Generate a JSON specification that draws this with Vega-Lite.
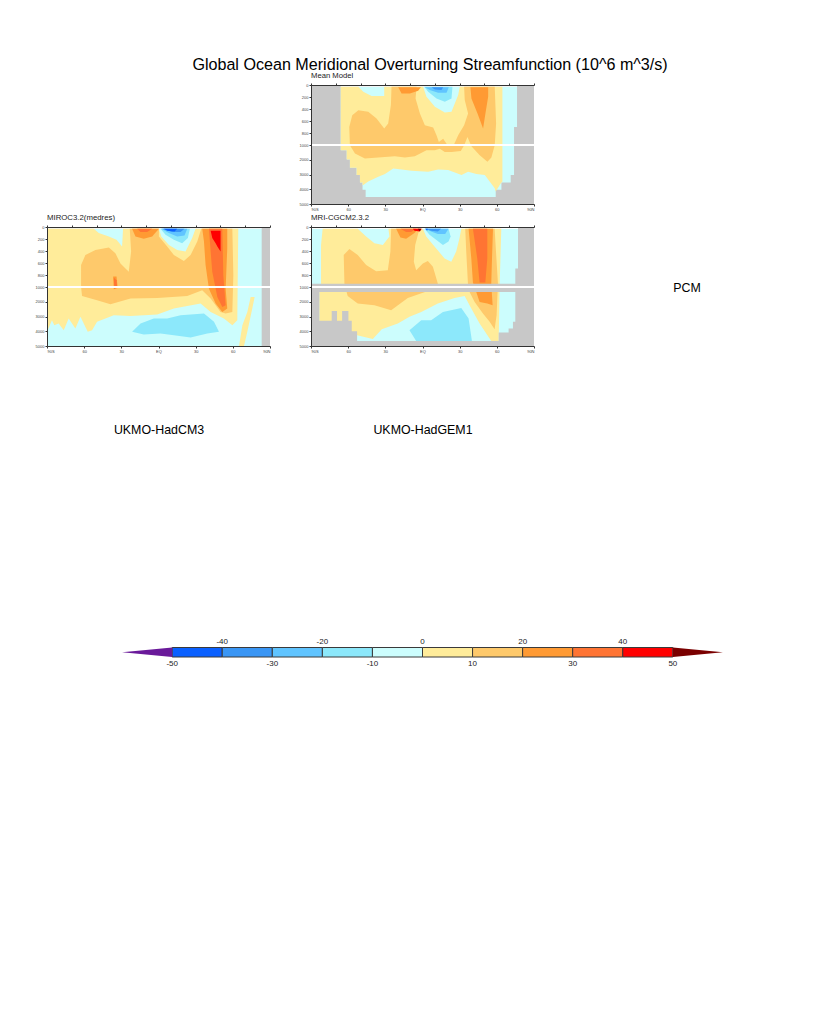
{"$schema":"https://vega.github.io/schema/vega-lite/v6.json","background":"white","padding":{"left":35,"top":57,"right":0,"bottom":0},
"config":{"font":"Liberation Sans","view":{"stroke":null}},
"title":{"text":"Global Ocean Meridional Overturning Streamfunction (10^6 m^3/s)","fontSize":16.12,"fontWeight":"normal","color":"#000","anchor":"middle","dx":13.5,"offset":-1.5},
"columns":3,"spacing":{"row":23,"column":41},"bounds":"flush",
"data":{"values":[
{"p":"M","k":1,"v":99,"lat":-90,"z":0},{"p":"M","k":1,"v":99,"lat":90,"z":0},{"p":"M","k":1,"v":99,"lat":90,"z":5000},{"p":"M","k":1,"v":99,"lat":-90,"z":5000},
{"p":"M","k":2,"v":-10,"lat":-66,"z":28},{"p":"M","k":2,"v":-10,"lat":76.3,"z":28},{"p":"M","k":2,"v":-10,"lat":76.3,"z":698},{"p":"M","k":2,"v":-10,"lat":73.9,"z":698},{"p":"M","k":2,"v":-10,"lat":73.9,"z":3034},{"p":"M","k":2,"v":-10,"lat":71.2,"z":3034},{"p":"M","k":2,"v":-10,"lat":71.2,"z":3548},{"p":"M","k":2,"v":-10,"lat":63.7,"z":3548},{"p":"M","k":2,"v":-10,"lat":63.7,"z":4040},{"p":"M","k":2,"v":-10,"lat":59.1,"z":4040},{"p":"M","k":2,"v":-10,"lat":59.1,"z":4532},{"p":"M","k":2,"v":-10,"lat":-45.9,"z":4532},{"p":"M","k":2,"v":-10,"lat":-45.9,"z":4040},{"p":"M","k":2,"v":-10,"lat":-48.4,"z":4040},{"p":"M","k":2,"v":-10,"lat":-48.4,"z":3548},{"p":"M","k":2,"v":-10,"lat":-50.5,"z":3548},{"p":"M","k":2,"v":-10,"lat":-50.5,"z":3034},{"p":"M","k":2,"v":-10,"lat":-53.2,"z":3034},{"p":"M","k":2,"v":-10,"lat":-53.2,"z":2542},{"p":"M","k":2,"v":-10,"lat":-58.6,"z":2542},{"p":"M","k":2,"v":-10,"lat":-58.6,"z":1983},{"p":"M","k":2,"v":-10,"lat":-61.2,"z":1983},{"p":"M","k":2,"v":-10,"lat":-61.2,"z":1358},{"p":"M","k":2,"v":-10,"lat":-66,"z":1358},
{"p":"M","k":3,"v":98,"lat":-66,"z":0},{"p":"M","k":3,"v":98,"lat":76.3,"z":0},{"p":"M","k":3,"v":98,"lat":76.3,"z":28},{"p":"M","k":3,"v":98,"lat":-66,"z":28},
{"p":"M","k":4,"v":0,"lat":-66,"z":28},{"p":"M","k":4,"v":0,"lat":-51.8,"z":28},{"p":"M","k":4,"v":0,"lat":-47.8,"z":112},{"p":"M","k":4,"v":0,"lat":-41.1,"z":184},{"p":"M","k":4,"v":0,"lat":-30.9,"z":184},{"p":"M","k":4,"v":0,"lat":-30.9,"z":28},{"p":"M","k":4,"v":0,"lat":0.5,"z":28},{"p":"M","k":4,"v":0,"lat":3.2,"z":196},{"p":"M","k":4,"v":0,"lat":10,"z":363},{"p":"M","k":4,"v":0,"lat":18,"z":458},{"p":"M","k":4,"v":0,"lat":23.4,"z":447},{"p":"M","k":4,"v":0,"lat":28.8,"z":168},{"p":"M","k":4,"v":0,"lat":30.1,"z":28},{"p":"M","k":4,"v":0,"lat":64.5,"z":28},{"p":"M","k":4,"v":0,"lat":64.5,"z":3481},{"p":"M","k":4,"v":0,"lat":63.2,"z":3593},{"p":"M","k":4,"v":0,"lat":59.1,"z":4151},{"p":"M","k":4,"v":0,"lat":58.3,"z":3928},{"p":"M","k":4,"v":0,"lat":50.3,"z":3034},{"p":"M","k":4,"v":0,"lat":43.5,"z":2967},{"p":"M","k":4,"v":0,"lat":36.8,"z":2810},{"p":"M","k":4,"v":0,"lat":31.5,"z":3034},{"p":"M","k":4,"v":0,"lat":20.7,"z":2699},{"p":"M","k":4,"v":0,"lat":12.6,"z":2654},{"p":"M","k":4,"v":0,"lat":4.6,"z":2810},{"p":"M","k":4,"v":0,"lat":-8.9,"z":2743},{"p":"M","k":4,"v":0,"lat":-16.9,"z":2654},{"p":"M","k":4,"v":0,"lat":-23.6,"z":2587},{"p":"M","k":4,"v":0,"lat":-30.3,"z":2967},{"p":"M","k":4,"v":0,"lat":-35.7,"z":3146},{"p":"M","k":4,"v":0,"lat":-43.8,"z":3481},{"p":"M","k":4,"v":0,"lat":-47.8,"z":3704},{"p":"M","k":4,"v":0,"lat":-48.4,"z":3704},{"p":"M","k":4,"v":0,"lat":-48.4,"z":3548},{"p":"M","k":4,"v":0,"lat":-50.5,"z":3548},{"p":"M","k":4,"v":0,"lat":-50.5,"z":3034},{"p":"M","k":4,"v":0,"lat":-53.2,"z":3034},{"p":"M","k":4,"v":0,"lat":-53.2,"z":2542},{"p":"M","k":4,"v":0,"lat":-58.6,"z":2542},{"p":"M","k":4,"v":0,"lat":-58.6,"z":1983},{"p":"M","k":4,"v":0,"lat":-61.2,"z":1983},{"p":"M","k":4,"v":0,"lat":-61.2,"z":1358},{"p":"M","k":4,"v":0,"lat":-66,"z":1358},
{"p":"M","k":5,"v":10,"lat":-25,"z":28},{"p":"M","k":5,"v":10,"lat":-4.8,"z":28},{"p":"M","k":5,"v":10,"lat":-5.6,"z":223},{"p":"M","k":5,"v":10,"lat":-2.1,"z":475},{"p":"M","k":5,"v":10,"lat":1.9,"z":670},{"p":"M","k":5,"v":10,"lat":8.6,"z":710},{"p":"M","k":5,"v":10,"lat":11.3,"z":838},{"p":"M","k":5,"v":10,"lat":13.2,"z":950},{"p":"M","k":5,"v":10,"lat":16.7,"z":894},{"p":"M","k":5,"v":10,"lat":20.2,"z":1022},{"p":"M","k":5,"v":10,"lat":25.5,"z":989},{"p":"M","k":5,"v":10,"lat":28.8,"z":838},{"p":"M","k":5,"v":10,"lat":33.6,"z":670},{"p":"M","k":5,"v":10,"lat":36.8,"z":475},{"p":"M","k":5,"v":10,"lat":34.1,"z":251},{"p":"M","k":5,"v":10,"lat":33.6,"z":28},{"p":"M","k":5,"v":10,"lat":58.3,"z":28},{"p":"M","k":5,"v":10,"lat":59.4,"z":642},{"p":"M","k":5,"v":10,"lat":58.3,"z":1022},{"p":"M","k":5,"v":10,"lat":55.6,"z":1849},{"p":"M","k":5,"v":10,"lat":52.4,"z":2140},{"p":"M","k":5,"v":10,"lat":46.2,"z":1693},{"p":"M","k":5,"v":10,"lat":39.5,"z":1089},{"p":"M","k":5,"v":10,"lat":36.3,"z":866},{"p":"M","k":5,"v":10,"lat":33.6,"z":1022},{"p":"M","k":5,"v":10,"lat":30.9,"z":1402},{"p":"M","k":5,"v":10,"lat":23.4,"z":1469},{"p":"M","k":5,"v":10,"lat":18,"z":1469},{"p":"M","k":5,"v":10,"lat":14,"z":1246},{"p":"M","k":5,"v":10,"lat":10,"z":1358},{"p":"M","k":5,"v":10,"lat":3.2,"z":1358},{"p":"M","k":5,"v":10,"lat":-6.2,"z":1760},{"p":"M","k":5,"v":10,"lat":-14.2,"z":1849},{"p":"M","k":5,"v":10,"lat":-22.3,"z":1760},{"p":"M","k":5,"v":10,"lat":-35.7,"z":1849},{"p":"M","k":5,"v":10,"lat":-46.5,"z":1916},{"p":"M","k":5,"v":10,"lat":-54.5,"z":1581},{"p":"M","k":5,"v":10,"lat":-58.6,"z":1022},{"p":"M","k":5,"v":10,"lat":-59.1,"z":698},{"p":"M","k":5,"v":10,"lat":-56.7,"z":503},{"p":"M","k":5,"v":10,"lat":-51.8,"z":419},{"p":"M","k":5,"v":10,"lat":-43.8,"z":447},{"p":"M","k":5,"v":10,"lat":-37.1,"z":559},{"p":"M","k":5,"v":10,"lat":-30.9,"z":726},{"p":"M","k":5,"v":10,"lat":-27.7,"z":642},{"p":"M","k":5,"v":10,"lat":-25.5,"z":335},
{"p":"M","k":6,"v":20,"lat":-19.6,"z":39},{"p":"M","k":6,"v":20,"lat":-1.3,"z":39},{"p":"M","k":6,"v":20,"lat":-3.5,"z":95},{"p":"M","k":6,"v":20,"lat":-10.2,"z":140},{"p":"M","k":6,"v":20,"lat":-16.9,"z":140},
{"p":"M","k":7,"v":20,"lat":38.7,"z":39},{"p":"M","k":7,"v":20,"lat":53,"z":39},{"p":"M","k":7,"v":20,"lat":53,"z":196},{"p":"M","k":7,"v":20,"lat":50.8,"z":475},{"p":"M","k":7,"v":20,"lat":48.9,"z":726},{"p":"M","k":7,"v":20,"lat":44.4,"z":475},{"p":"M","k":7,"v":20,"lat":39.5,"z":223},
{"p":"M","k":8,"v":-20,"lat":1.4,"z":28},{"p":"M","k":8,"v":-20,"lat":24.2,"z":28},{"p":"M","k":8,"v":-20,"lat":23.4,"z":223},{"p":"M","k":8,"v":-20,"lat":18,"z":279},{"p":"M","k":8,"v":-20,"lat":11.3,"z":223},{"p":"M","k":8,"v":-20,"lat":4.6,"z":112},
{"p":"M","k":9,"v":-30,"lat":1.9,"z":39},{"p":"M","k":9,"v":-30,"lat":21.2,"z":39},{"p":"M","k":9,"v":-30,"lat":19.4,"z":128},{"p":"M","k":9,"v":-30,"lat":12.6,"z":128},{"p":"M","k":9,"v":-30,"lat":5.9,"z":84},
{"p":"M","k":10,"v":-40,"lat":7.3,"z":39},{"p":"M","k":10,"v":-40,"lat":16.7,"z":39},{"p":"M","k":10,"v":-40,"lat":15.3,"z":84},{"p":"M","k":10,"v":-40,"lat":10,"z":73},

{"p":"A","k":11,"v":99,"lat":-90,"z":0},{"p":"A","k":11,"v":99,"lat":90,"z":0},{"p":"A","k":11,"v":99,"lat":90,"z":5000},{"p":"A","k":11,"v":99,"lat":-90,"z":5000},
{"p":"A","k":12,"v":-10,"lat":-90,"z":28},{"p":"A","k":12,"v":-10,"lat":83.3,"z":28},{"p":"A","k":12,"v":-10,"lat":83.3,"z":5000},{"p":"A","k":12,"v":-10,"lat":-90,"z":5000},
{"p":"A","k":13,"v":98,"lat":-90,"z":0},{"p":"A","k":13,"v":98,"lat":83.3,"z":0},{"p":"A","k":13,"v":98,"lat":83.3,"z":28},{"p":"A","k":13,"v":98,"lat":-90,"z":28},
{"p":"A","k":14,"v":0,"lat":-90,"z":28},{"p":"A","k":14,"v":0,"lat":-52.3,"z":28},{"p":"A","k":14,"v":0,"lat":-48.2,"z":101},{"p":"A","k":14,"v":0,"lat":-40.1,"z":157},{"p":"A","k":14,"v":0,"lat":-33.9,"z":214},{"p":"A","k":14,"v":0,"lat":-29.4,"z":326},{"p":"A","k":14,"v":0,"lat":-28.6,"z":28},{"p":"A","k":14,"v":0,"lat":0.3,"z":28},{"p":"A","k":14,"v":0,"lat":2.2,"z":157},{"p":"A","k":14,"v":0,"lat":8.4,"z":298},{"p":"A","k":14,"v":0,"lat":15.1,"z":382},{"p":"A","k":14,"v":0,"lat":21.8,"z":410},{"p":"A","k":14,"v":0,"lat":27.2,"z":185},{"p":"A","k":14,"v":0,"lat":29.9,"z":28},{"p":"A","k":14,"v":0,"lat":64.4,"z":28},{"p":"A","k":14,"v":0,"lat":63.6,"z":3250},{"p":"A","k":14,"v":0,"lat":59.6,"z":3588},{"p":"A","k":14,"v":0,"lat":52.8,"z":3138},{"p":"A","k":14,"v":0,"lat":42.1,"z":2688},{"p":"A","k":14,"v":0,"lat":34,"z":2125},{"p":"A","k":14,"v":0,"lat":12.4,"z":2463},{"p":"A","k":14,"v":0,"lat":-1,"z":2868},{"p":"A","k":14,"v":0,"lat":-22.6,"z":2958},{"p":"A","k":14,"v":0,"lat":-36.1,"z":2913},{"p":"A","k":14,"v":0,"lat":-49.6,"z":3363},{"p":"A","k":14,"v":0,"lat":-53.6,"z":3925},{"p":"A","k":14,"v":0,"lat":-57.1,"z":4038},{"p":"A","k":14,"v":0,"lat":-63,"z":3025},{"p":"A","k":14,"v":0,"lat":-67.1,"z":3813},{"p":"A","k":14,"v":0,"lat":-72.5,"z":3138},{"p":"A","k":14,"v":0,"lat":-76.5,"z":3925},{"p":"A","k":14,"v":0,"lat":-80.6,"z":3475},{"p":"A","k":14,"v":0,"lat":-84.1,"z":3588},{"p":"A","k":14,"v":0,"lat":-86,"z":3250},{"p":"A","k":14,"v":0,"lat":-90,"z":4038},
{"p":"A","k":15,"v":0,"lat":74.4,"z":1675},{"p":"A","k":15,"v":0,"lat":77.6,"z":1675},{"p":"A","k":15,"v":0,"lat":75.7,"z":2463},{"p":"A","k":15,"v":0,"lat":71.7,"z":4038},{"p":"A","k":15,"v":0,"lat":69,"z":5000},{"p":"A","k":15,"v":0,"lat":65,"z":5000},{"p":"A","k":15,"v":0,"lat":67.7,"z":3588},{"p":"A","k":15,"v":0,"lat":71.7,"z":2688},
{"p":"A","k":16,"v":10,"lat":-23.2,"z":28},{"p":"A","k":16,"v":10,"lat":0.3,"z":28},{"p":"A","k":16,"v":10,"lat":0.3,"z":157},{"p":"A","k":16,"v":10,"lat":7,"z":326},{"p":"A","k":16,"v":10,"lat":12.4,"z":466},{"p":"A","k":16,"v":10,"lat":20.5,"z":568},{"p":"A","k":16,"v":10,"lat":25.9,"z":466},{"p":"A","k":16,"v":10,"lat":31.3,"z":242},{"p":"A","k":16,"v":10,"lat":34.5,"z":28},{"p":"A","k":16,"v":10,"lat":59.6,"z":28},{"p":"A","k":16,"v":10,"lat":60.4,"z":803},{"p":"A","k":16,"v":10,"lat":59.6,"z":2688},{"p":"A","k":16,"v":10,"lat":54.2,"z":2800},{"p":"A","k":16,"v":10,"lat":50.1,"z":2688},{"p":"A","k":16,"v":10,"lat":42.1,"z":1788},{"p":"A","k":16,"v":10,"lat":35.3,"z":1225},{"p":"A","k":16,"v":10,"lat":23.2,"z":1608},{"p":"A","k":16,"v":10,"lat":-1,"z":1743},{"p":"A","k":16,"v":10,"lat":-22.6,"z":1788},{"p":"A","k":16,"v":10,"lat":-38.8,"z":2170},{"p":"A","k":16,"v":10,"lat":-49.6,"z":1900},{"p":"A","k":16,"v":10,"lat":-61.7,"z":1608},{"p":"A","k":16,"v":10,"lat":-62.5,"z":1000},{"p":"A","k":16,"v":10,"lat":-62.5,"z":635},{"p":"A","k":16,"v":10,"lat":-59,"z":466},{"p":"A","k":16,"v":10,"lat":-50.9,"z":382},{"p":"A","k":16,"v":10,"lat":-40.1,"z":343},{"p":"A","k":16,"v":10,"lat":-34.8,"z":438},{"p":"A","k":16,"v":10,"lat":-30.7,"z":607},{"p":"A","k":16,"v":10,"lat":-24,"z":747},{"p":"A","k":16,"v":10,"lat":-22.1,"z":410},
{"p":"A","k":17,"v":20,"lat":-21.3,"z":28},{"p":"A","k":17,"v":20,"lat":0.3,"z":28},{"p":"A","k":17,"v":20,"lat":-5.1,"z":157},{"p":"A","k":17,"v":20,"lat":-11.9,"z":197},{"p":"A","k":17,"v":20,"lat":-18.6,"z":157},
{"p":"A","k":18,"v":20,"lat":35.3,"z":28},{"p":"A","k":18,"v":20,"lat":55.5,"z":28},{"p":"A","k":18,"v":20,"lat":55.5,"z":354},{"p":"A","k":18,"v":20,"lat":54.2,"z":1113},{"p":"A","k":18,"v":20,"lat":55.5,"z":2463},{"p":"A","k":18,"v":20,"lat":51.5,"z":2688},{"p":"A","k":18,"v":20,"lat":46.1,"z":2125},{"p":"A","k":18,"v":20,"lat":40.7,"z":1113},{"p":"A","k":18,"v":20,"lat":38,"z":635},{"p":"A","k":18,"v":20,"lat":36.7,"z":242},
{"p":"A","k":19,"v":20,"lat":-36.6,"z":826},{"p":"A","k":19,"v":20,"lat":-33.9,"z":826},{"p":"A","k":19,"v":20,"lat":-32.9,"z":1068},{"p":"A","k":19,"v":20,"lat":-36.1,"z":1158},
{"p":"A","k":20,"v":30,"lat":-17.2,"z":28},{"p":"A","k":20,"v":30,"lat":-5.1,"z":28},{"p":"A","k":20,"v":30,"lat":-9.2,"z":84},{"p":"A","k":20,"v":30,"lat":-14.5,"z":84},
{"p":"A","k":21,"v":30,"lat":40.7,"z":28},{"p":"A","k":21,"v":30,"lat":51.5,"z":28},{"p":"A","k":21,"v":30,"lat":52.3,"z":803},{"p":"A","k":21,"v":30,"lat":54.2,"z":2238},{"p":"A","k":21,"v":30,"lat":51.5,"z":2350},{"p":"A","k":21,"v":30,"lat":47.5,"z":1675},{"p":"A","k":21,"v":30,"lat":43.4,"z":747},{"p":"A","k":21,"v":30,"lat":42.1,"z":410},
{"p":"A","k":22,"v":30,"lat":-36.1,"z":843},{"p":"A","k":22,"v":30,"lat":-33.9,"z":888},{"p":"A","k":22,"v":30,"lat":-33.4,"z":1000},{"p":"A","k":22,"v":30,"lat":-35.6,"z":1113},
{"p":"A","k":23,"v":40,"lat":42.1,"z":62},{"p":"A","k":23,"v":40,"lat":50.1,"z":62},{"p":"A","k":23,"v":40,"lat":50.1,"z":410},{"p":"A","k":23,"v":40,"lat":47.5,"z":326},{"p":"A","k":23,"v":40,"lat":46.1,"z":270},{"p":"A","k":23,"v":40,"lat":43.4,"z":185},
{"p":"A","k":24,"v":-20,"lat":1.6,"z":28},{"p":"A","k":24,"v":-20,"lat":25.3,"z":28},{"p":"A","k":24,"v":-20,"lat":23.7,"z":185},{"p":"A","k":24,"v":-20,"lat":19.1,"z":270},{"p":"A","k":24,"v":-20,"lat":12.4,"z":214},{"p":"A","k":24,"v":-20,"lat":5.7,"z":129},
{"p":"A","k":25,"v":-30,"lat":2.2,"z":28},{"p":"A","k":25,"v":-30,"lat":23.2,"z":28},{"p":"A","k":25,"v":-30,"lat":21,"z":140},{"p":"A","k":25,"v":-30,"lat":15.1,"z":157},{"p":"A","k":25,"v":-30,"lat":8.4,"z":101},
{"p":"A","k":26,"v":-40,"lat":3,"z":28},{"p":"A","k":26,"v":-40,"lat":21,"z":28},{"p":"A","k":26,"v":-40,"lat":17.8,"z":84},{"p":"A","k":26,"v":-40,"lat":11,"z":84},
{"p":"A","k":27,"v":-50,"lat":4.3,"z":28},{"p":"A","k":27,"v":-50,"lat":15.1,"z":28},{"p":"A","k":27,"v":-50,"lat":13,"z":73},{"p":"A","k":27,"v":-50,"lat":7,"z":62},
{"p":"A","k":28,"v":-20,"lat":-21.3,"z":4038},{"p":"A","k":28,"v":-20,"lat":-14.5,"z":3475},{"p":"A","k":28,"v":-20,"lat":-3.8,"z":3138},{"p":"A","k":28,"v":-20,"lat":7,"z":3138},{"p":"A","k":28,"v":-20,"lat":17.8,"z":2913},{"p":"A","k":28,"v":-20,"lat":36.7,"z":2800},{"p":"A","k":28,"v":-20,"lat":44.8,"z":3363},{"p":"A","k":28,"v":-20,"lat":48.8,"z":4038},{"p":"A","k":28,"v":-20,"lat":39.4,"z":4150},{"p":"A","k":28,"v":-20,"lat":25.9,"z":4420},{"p":"A","k":28,"v":-20,"lat":12.4,"z":4263},{"p":"A","k":28,"v":-20,"lat":1.6,"z":4150},{"p":"A","k":28,"v":-20,"lat":-11.9,"z":4218},

{"p":"B","k":31,"v":-10,"lat":-90,"z":28},{"p":"B","k":31,"v":-10,"lat":90,"z":28},{"p":"B","k":31,"v":-10,"lat":90,"z":5000},{"p":"B","k":31,"v":-10,"lat":-90,"z":5000},
{"p":"B","k":32,"v":98,"lat":-90,"z":0},{"p":"B","k":32,"v":98,"lat":77.1,"z":0},{"p":"B","k":32,"v":98,"lat":77.1,"z":28},{"p":"B","k":32,"v":98,"lat":-90,"z":28},
{"p":"B","k":33,"v":0,"lat":-80.6,"z":28},{"p":"B","k":33,"v":0,"lat":-52.3,"z":28},{"p":"B","k":33,"v":0,"lat":-45.5,"z":157},{"p":"B","k":33,"v":0,"lat":-38.8,"z":270},{"p":"B","k":33,"v":0,"lat":-32,"z":298},{"p":"B","k":33,"v":0,"lat":-26.7,"z":157},{"p":"B","k":33,"v":0,"lat":-27.5,"z":28},{"p":"B","k":33,"v":0,"lat":0.3,"z":28},{"p":"B","k":33,"v":0,"lat":3,"z":157},{"p":"B","k":33,"v":0,"lat":9.7,"z":326},{"p":"B","k":33,"v":0,"lat":17.8,"z":523},{"p":"B","k":33,"v":0,"lat":23.2,"z":579},{"p":"B","k":33,"v":0,"lat":27.2,"z":410},{"p":"B","k":33,"v":0,"lat":29.9,"z":185},{"p":"B","k":33,"v":0,"lat":31.3,"z":28},{"p":"B","k":33,"v":0,"lat":63.6,"z":28},{"p":"B","k":33,"v":0,"lat":62.3,"z":944},{"p":"B","k":33,"v":0,"lat":61.5,"z":4668},{"p":"B","k":33,"v":0,"lat":55.5,"z":4668},{"p":"B","k":33,"v":0,"lat":46.1,"z":3475},{"p":"B","k":33,"v":0,"lat":39.4,"z":2463},{"p":"B","k":33,"v":0,"lat":34,"z":1608},{"p":"B","k":33,"v":0,"lat":25.9,"z":1743},{"p":"B","k":33,"v":0,"lat":12.4,"z":2125},{"p":"B","k":33,"v":0,"lat":-1,"z":2688},{"p":"B","k":33,"v":0,"lat":-10.5,"z":3025},{"p":"B","k":33,"v":0,"lat":-19.9,"z":3475},{"p":"B","k":33,"v":0,"lat":-32.9,"z":3858},{"p":"B","k":33,"v":0,"lat":-40.1,"z":4533},{"p":"B","k":33,"v":0,"lat":-52.8,"z":4263},{"p":"B","k":33,"v":0,"lat":-57.1,"z":4263},{"p":"B","k":33,"v":0,"lat":-83.3,"z":3363},{"p":"B","k":33,"v":0,"lat":-83.3,"z":1338},{"p":"B","k":33,"v":0,"lat":-81.9,"z":944},{"p":"B","k":33,"v":0,"lat":-81.9,"z":298},
{"p":"B","k":34,"v":-20,"lat":-10.5,"z":3925},{"p":"B","k":34,"v":-20,"lat":-1,"z":3250},{"p":"B","k":34,"v":-20,"lat":7,"z":3250},{"p":"B","k":34,"v":-20,"lat":16.5,"z":2688},{"p":"B","k":34,"v":-20,"lat":31.3,"z":2418},{"p":"B","k":34,"v":-20,"lat":37.2,"z":3138},{"p":"B","k":34,"v":-20,"lat":39.9,"z":4668},{"p":"B","k":34,"v":-20,"lat":-5.1,"z":4668},
{"p":"B","k":35,"v":10,"lat":-25.3,"z":28},{"p":"B","k":35,"v":10,"lat":-2.4,"z":28},{"p":"B","k":35,"v":10,"lat":-5.9,"z":298},{"p":"B","k":35,"v":10,"lat":-7,"z":579},{"p":"B","k":35,"v":10,"lat":-5.1,"z":719},{"p":"B","k":35,"v":10,"lat":0.3,"z":607},{"p":"B","k":35,"v":10,"lat":4.3,"z":568},{"p":"B","k":35,"v":10,"lat":8.4,"z":663},{"p":"B","k":35,"v":10,"lat":12.4,"z":944},{"p":"B","k":35,"v":10,"lat":9.7,"z":1113},{"p":"B","k":35,"v":10,"lat":0.3,"z":1383},{"p":"B","k":35,"v":10,"lat":-11.9,"z":1743},{"p":"B","k":35,"v":10,"lat":-25.3,"z":2575},{"p":"B","k":35,"v":10,"lat":-38.8,"z":2238},{"p":"B","k":35,"v":10,"lat":-52.3,"z":2125},{"p":"B","k":35,"v":10,"lat":-60.4,"z":1608},{"p":"B","k":35,"v":10,"lat":-63,"z":944},{"p":"B","k":35,"v":10,"lat":-63.6,"z":466},{"p":"B","k":35,"v":10,"lat":-59,"z":365},{"p":"B","k":35,"v":10,"lat":-52.3,"z":466},{"p":"B","k":35,"v":10,"lat":-45.5,"z":635},{"p":"B","k":35,"v":10,"lat":-37.4,"z":736},{"p":"B","k":35,"v":10,"lat":-28,"z":719},{"p":"B","k":35,"v":10,"lat":-25.9,"z":410},
{"p":"B","k":36,"v":10,"lat":34.5,"z":28},{"p":"B","k":36,"v":10,"lat":58.2,"z":28},{"p":"B","k":36,"v":10,"lat":60.9,"z":944},{"p":"B","k":36,"v":10,"lat":59.8,"z":2913},{"p":"B","k":36,"v":10,"lat":58.2,"z":3858},{"p":"B","k":36,"v":10,"lat":54.2,"z":3363},{"p":"B","k":36,"v":10,"lat":48.8,"z":2800},{"p":"B","k":36,"v":10,"lat":42.1,"z":2013},{"p":"B","k":36,"v":10,"lat":38,"z":1338},{"p":"B","k":36,"v":10,"lat":36.7,"z":944},{"p":"B","k":36,"v":10,"lat":35.3,"z":410},
{"p":"B","k":37,"v":20,"lat":-21.3,"z":28},{"p":"B","k":37,"v":20,"lat":-3.2,"z":28},{"p":"B","k":37,"v":20,"lat":-6.5,"z":101},{"p":"B","k":37,"v":20,"lat":-13.2,"z":197},{"p":"B","k":37,"v":20,"lat":-17.8,"z":174},
{"p":"B","k":38,"v":20,"lat":37.2,"z":28},{"p":"B","k":38,"v":20,"lat":56.9,"z":28},{"p":"B","k":38,"v":20,"lat":56.1,"z":523},{"p":"B","k":38,"v":20,"lat":55.5,"z":944},{"p":"B","k":38,"v":20,"lat":56.6,"z":2238},{"p":"B","k":38,"v":20,"lat":52.3,"z":2125},{"p":"B","k":38,"v":20,"lat":46.1,"z":2013},{"p":"B","k":38,"v":20,"lat":43.4,"z":1338},{"p":"B","k":38,"v":20,"lat":40.7,"z":925},{"p":"B","k":38,"v":20,"lat":39.4,"z":523},
{"p":"B","k":39,"v":30,"lat":-17.8,"z":28},{"p":"B","k":39,"v":30,"lat":-5.1,"z":28},{"p":"B","k":39,"v":30,"lat":-9.2,"z":84},{"p":"B","k":39,"v":30,"lat":-13.2,"z":84},
{"p":"B","k":40,"v":30,"lat":40.7,"z":28},{"p":"B","k":40,"v":30,"lat":52.3,"z":28},{"p":"B","k":40,"v":30,"lat":52.3,"z":523},{"p":"B","k":40,"v":30,"lat":50.7,"z":925},{"p":"B","k":40,"v":30,"lat":46.1,"z":925},{"p":"B","k":40,"v":30,"lat":44.2,"z":523},
{"p":"B","k":41,"v":40,"lat":-7.8,"z":28},{"p":"B","k":41,"v":40,"lat":-0.5,"z":28},{"p":"B","k":41,"v":40,"lat":-2.4,"z":73},{"p":"B","k":41,"v":40,"lat":-6.5,"z":62},
{"p":"B","k":42,"v":50,"lat":-3.8,"z":28},{"p":"B","k":42,"v":50,"lat":-1.1,"z":28},{"p":"B","k":42,"v":50,"lat":-2.1,"z":73},
{"p":"B","k":43,"v":-20,"lat":1.6,"z":28},{"p":"B","k":43,"v":-20,"lat":21,"z":28},{"p":"B","k":43,"v":-20,"lat":22.7,"z":157},{"p":"B","k":43,"v":-20,"lat":21,"z":242},{"p":"B","k":43,"v":-20,"lat":16.5,"z":298},{"p":"B","k":43,"v":-20,"lat":11,"z":214},{"p":"B","k":43,"v":-20,"lat":5.7,"z":129},
{"p":"B","k":44,"v":-30,"lat":2.2,"z":28},{"p":"B","k":44,"v":-30,"lat":21,"z":28},{"p":"B","k":44,"v":-30,"lat":18.3,"z":118},{"p":"B","k":44,"v":-30,"lat":12.4,"z":118},{"p":"B","k":44,"v":-30,"lat":7,"z":73},
{"p":"B","k":45,"v":-40,"lat":2.2,"z":28},{"p":"B","k":45,"v":-40,"lat":15.1,"z":28},{"p":"B","k":45,"v":-40,"lat":12.4,"z":73},{"p":"B","k":45,"v":-40,"lat":7,"z":62},
{"p":"B","k":46,"v":-50,"lat":2.2,"z":28},{"p":"B","k":46,"v":-50,"lat":4.3,"z":28},{"p":"B","k":46,"v":-50,"lat":3.8,"z":62},
{"p":"B","k":47,"v":99,"lat":-90,"z":944},{"p":"B","k":47,"v":99,"lat":90,"z":944},{"p":"B","k":47,"v":99,"lat":90,"z":1338},{"p":"B","k":47,"v":99,"lat":-90,"z":1338},
{"p":"B","k":48,"v":99,"lat":-90,"z":1338},{"p":"B","k":48,"v":99,"lat":-83.3,"z":1338},{"p":"B","k":48,"v":99,"lat":-83.3,"z":3295},{"p":"B","k":48,"v":99,"lat":-73.3,"z":3295},{"p":"B","k":48,"v":99,"lat":-73.3,"z":2620},{"p":"B","k":48,"v":99,"lat":-69,"z":2620},{"p":"B","k":48,"v":99,"lat":-69,"z":3295},{"p":"B","k":48,"v":99,"lat":-64.9,"z":3295},{"p":"B","k":48,"v":99,"lat":-64.9,"z":2620},{"p":"B","k":48,"v":99,"lat":-59.8,"z":2620},{"p":"B","k":48,"v":99,"lat":-59.8,"z":3295},{"p":"B","k":48,"v":99,"lat":-57.1,"z":3295},{"p":"B","k":48,"v":99,"lat":-57.1,"z":3993},{"p":"B","k":48,"v":99,"lat":-52.8,"z":3993},{"p":"B","k":48,"v":99,"lat":-52.8,"z":4668},{"p":"B","k":48,"v":99,"lat":90,"z":4668},{"p":"B","k":48,"v":99,"lat":90,"z":5000},{"p":"B","k":48,"v":99,"lat":-90,"z":5000},
{"p":"B","k":49,"v":99,"lat":77.1,"z":0},{"p":"B","k":49,"v":99,"lat":90,"z":0},{"p":"B","k":49,"v":99,"lat":90,"z":4668},{"p":"B","k":49,"v":99,"lat":61.5,"z":4668},{"p":"B","k":49,"v":99,"lat":61.5,"z":4083},{"p":"B","k":49,"v":99,"lat":69.5,"z":4083},{"p":"B","k":49,"v":99,"lat":69.5,"z":3813},{"p":"B","k":49,"v":99,"lat":73,"z":3813},{"p":"B","k":49,"v":99,"lat":73,"z":3363},{"p":"B","k":49,"v":99,"lat":74.9,"z":3363},{"p":"B","k":49,"v":99,"lat":74.9,"z":691},{"p":"B","k":49,"v":99,"lat":77.1,"z":691}
]},
"concat":[
{"width":223,"height":119,"data":{"values":[{"t":""}]},"mark":"text","encoding":{"text":{"field":"t"}}},
{"width":223,"height":119,"title":{"text":"Mean Model","fontSize":7.7,"fontWeight":"normal","anchor":"start","frame":"group","offset":3,"color":"#222"},"resolve":{"axis":{"x":"independent"}},"layer":[
{"transform":[{"filter":"datum.p=='M'"}],"mark":{"type":"line","order":null,"strokeWidth":0,"interpolate":"linear-closed"},"encoding":{"x":{"field":"lat","type":"quantitative","scale":{"domain":[-90,90]},"axis":{"orient":"bottom","values":[-90,-60,-30,0,30,60,90],"labelExpr":"datum.value==-90?'90S':datum.value==90?'90N':datum.value==0?'EQ':abs(datum.value)","title":null,"grid":false,"tickSize":2,"labelFontSize":4,"labelPadding":1,"labelColor":"#444","domainColor":"#333","tickColor":"#333","labelOverlap":false,"zindex":1}},"y":{"field":"z","type":"quantitative","scale":{"domain":[0,1000,5000],"range":[0,60,119]},"axis":{"values":[0,200,400,600,800,1000,2000,3000,4000,5000],"title":null,"grid":false,"tickSize":2,"labelFontSize":4,"labelPadding":1,"labelColor":"#444","domainColor":"#333","tickColor":"#333","labelOverlap":false,"format":"d","zindex":1}},"fill":{"field":"v","type":"nominal","scale":{"domain":[-60,-50,-40,-30,-20,-10,0,10,20,30,40,50,98,99],"range":["#6a1a9a","#0a60ff","#3a96f5","#60c4ff","#8ce8fb","#ccfdfd","#ffec9a","#fec96b","#ff9a33","#ff7433","#ff0000","#7a0000","#ffffff","#c8c8c8"]},"legend":null},"detail":{"field":"k"}}},
{"data":{"values":[{"z":1000}]},"mark":{"type":"rule","color":"#ffffff","strokeWidth":2},"encoding":{"y":{"field":"z","type":"quantitative","scale":{"domain":[0,1000,5000],"range":[0,60,119]},"axis":{"values":[0,200,400,600,800,1000,2000,3000,4000,5000],"title":null,"grid":false,"tickSize":2,"labelFontSize":4,"labelPadding":1,"labelColor":"#444","domainColor":"#333","tickColor":"#333","labelOverlap":false,"format":"d","zindex":1}}}},
{"data":{"values":[{"lat":0}]},"mark":{"type":"text","text":""},"encoding":{"x":{"field":"lat","type":"quantitative","scale":{"domain":[-90,90]},"axis":{"orient":"top","values":[-90,-70,-50,-30,-10,10,30,50,70,90],"labels":false,"title":null,"grid":false,"tickSize":2,"domainColor":"#333","tickColor":"#333","zindex":1}}}}
]},
{"width":223,"height":119,"data":{"values":[{"t":""}]},"mark":"text","encoding":{"text":{"field":"t"}}},
{"width":223,"height":119,"title":{"text":"MIROC3.2(medres)","fontSize":7.8,"fontWeight":"normal","anchor":"start","frame":"group","offset":3,"color":"#222"},"resolve":{"axis":{"x":"independent"}},"layer":[
{"transform":[{"filter":"datum.p=='A'"}],"mark":{"type":"line","order":null,"strokeWidth":0,"interpolate":"linear-closed"},"encoding":{"x":{"field":"lat","type":"quantitative","scale":{"domain":[-90,90]},"axis":{"orient":"bottom","values":[-90,-60,-30,0,30,60,90],"labelExpr":"datum.value==-90?'90S':datum.value==90?'90N':datum.value==0?'EQ':abs(datum.value)","title":null,"grid":false,"tickSize":2,"labelFontSize":4,"labelPadding":1,"labelColor":"#444","domainColor":"#333","tickColor":"#333","labelOverlap":false,"zindex":1}},"y":{"field":"z","type":"quantitative","scale":{"domain":[0,1000,5000],"range":[0,60,119]},"axis":{"values":[0,200,400,600,800,1000,2000,3000,4000,5000],"title":null,"grid":false,"tickSize":2,"labelFontSize":4,"labelPadding":1,"labelColor":"#444","domainColor":"#333","tickColor":"#333","labelOverlap":false,"format":"d","zindex":1}},"fill":{"field":"v","type":"nominal","scale":{"domain":[-60,-50,-40,-30,-20,-10,0,10,20,30,40,50,98,99],"range":["#6a1a9a","#0a60ff","#3a96f5","#60c4ff","#8ce8fb","#ccfdfd","#ffec9a","#fec96b","#ff9a33","#ff7433","#ff0000","#7a0000","#ffffff","#c8c8c8"]},"legend":null},"detail":{"field":"k"}}},
{"data":{"values":[{"z":1000}]},"mark":{"type":"rule","color":"#ffffff","strokeWidth":2},"encoding":{"y":{"field":"z","type":"quantitative","scale":{"domain":[0,1000,5000],"range":[0,60,119]},"axis":{"values":[0,200,400,600,800,1000,2000,3000,4000,5000],"title":null,"grid":false,"tickSize":2,"labelFontSize":4,"labelPadding":1,"labelColor":"#444","domainColor":"#333","tickColor":"#333","labelOverlap":false,"format":"d","zindex":1}}}},
{"data":{"values":[{"lat":0}]},"mark":{"type":"text","text":""},"encoding":{"x":{"field":"lat","type":"quantitative","scale":{"domain":[-90,90]},"axis":{"orient":"top","values":[-90,-70,-50,-30,-10,10,30,50,70,90],"labels":false,"title":null,"grid":false,"tickSize":2,"domainColor":"#333","tickColor":"#333","zindex":1}}}}
]},
{"width":223,"height":119,"title":{"text":"MRI-CGCM2.3.2","fontSize":7.8,"fontWeight":"normal","anchor":"start","frame":"group","offset":3,"color":"#222"},"resolve":{"axis":{"x":"independent"}},"layer":[
{"transform":[{"filter":"datum.p=='B'"}],"mark":{"type":"line","order":null,"strokeWidth":0,"interpolate":"linear-closed"},"encoding":{"x":{"field":"lat","type":"quantitative","scale":{"domain":[-90,90]},"axis":{"orient":"bottom","values":[-90,-60,-30,0,30,60,90],"labelExpr":"datum.value==-90?'90S':datum.value==90?'90N':datum.value==0?'EQ':abs(datum.value)","title":null,"grid":false,"tickSize":2,"labelFontSize":4,"labelPadding":1,"labelColor":"#444","domainColor":"#333","tickColor":"#333","labelOverlap":false,"zindex":1}},"y":{"field":"z","type":"quantitative","scale":{"domain":[0,1000,5000],"range":[0,60,119]},"axis":{"values":[0,200,400,600,800,1000,2000,3000,4000,5000],"title":null,"grid":false,"tickSize":2,"labelFontSize":4,"labelPadding":1,"labelColor":"#444","domainColor":"#333","tickColor":"#333","labelOverlap":false,"format":"d","zindex":1}},"fill":{"field":"v","type":"nominal","scale":{"domain":[-60,-50,-40,-30,-20,-10,0,10,20,30,40,50,98,99],"range":["#6a1a9a","#0a60ff","#3a96f5","#60c4ff","#8ce8fb","#ccfdfd","#ffec9a","#fec96b","#ff9a33","#ff7433","#ff0000","#7a0000","#ffffff","#c8c8c8"]},"legend":null},"detail":{"field":"k"}}},
{"data":{"values":[{"z":1000}]},"mark":{"type":"rule","color":"#ffffff","strokeWidth":2},"encoding":{"y":{"field":"z","type":"quantitative","scale":{"domain":[0,1000,5000],"range":[0,60,119]},"axis":{"values":[0,200,400,600,800,1000,2000,3000,4000,5000],"title":null,"grid":false,"tickSize":2,"labelFontSize":4,"labelPadding":1,"labelColor":"#444","domainColor":"#333","tickColor":"#333","labelOverlap":false,"format":"d","zindex":1}}}},
{"data":{"values":[{"lat":0}]},"mark":{"type":"text","text":""},"encoding":{"x":{"field":"lat","type":"quantitative","scale":{"domain":[-90,90]},"axis":{"orient":"top","values":[-90,-70,-50,-30,-10,10,30,50,70,90],"labels":false,"title":null,"grid":false,"tickSize":2,"domainColor":"#333","tickColor":"#333","zindex":1}}}}
]},
{"width":223,"height":119,"data":{"values":[{"t":"PCM"}]},"mark":{"type":"text","fontSize":12.4,"color":"#000","dy":1.5,"dx":0.5},"encoding":{"text":{"field":"t"}}},
{"width":223,"height":119,"data":{"values":[{"t":"UKMO-HadCM3"}]},"mark":{"type":"text","fontSize":12.4,"color":"#000","dy":1,"dx":0.5},"encoding":{"text":{"field":"t"}}},
{"width":223,"height":119,"data":{"values":[{"t":"UKMO-HadGEM1"}]},"mark":{"type":"text","fontSize":12.4,"color":"#000","dy":1,"dx":0.5},"encoding":{"text":{"field":"t"}}},
{"width":223,"height":119,"data":{"values":[{"t":""}]},"mark":"text","encoding":{"text":{"field":"t"}}},
{"width":223,"height":157,"data":{"values":[{"t":""}]},"mark":"text","encoding":{"text":{"field":"t"}}},
{"width":223,"height":157,"layer":[
{"data":{"values":[{"v":-50,"a":-50,"b":-40},{"v":-40,"a":-40,"b":-30},{"v":-30,"a":-30,"b":-20},{"v":-20,"a":-20,"b":-10},{"v":-10,"a":-10,"b":0},{"v":0,"a":0,"b":10},{"v":10,"a":10,"b":20},{"v":20,"a":20,"b":30},{"v":30,"a":30,"b":40},{"v":40,"a":40,"b":50}]},"mark":{"type":"rect","stroke":"#3a3a3a","strokeWidth":1},"encoding":{"x":{"field":"a","type":"quantitative","scale":{"domain":[-75,75],"range":[-264,487]},"axis":null},"x2":{"field":"b"},"y":{"datum":0,"type":"quantitative","scale":{"domain":[0,1],"range":[136.5,146]},"axis":null},"y2":{"datum":1},"fill":{"field":"v","type":"nominal","scale":{"domain":[-60,-50,-40,-30,-20,-10,0,10,20,30,40,50,98,99],"range":["#6a1a9a","#0a60ff","#3a96f5","#60c4ff","#8ce8fb","#ccfdfd","#ffec9a","#fec96b","#ff9a33","#ff7433","#ff0000","#7a0000","#ffffff","#c8c8c8"]},"legend":null}}},
{"data":{"values":[{"k":1,"v":-60,"a":-60,"h":0.5},{"k":1,"v":-60,"a":-50,"h":0},{"k":1,"v":-60,"a":-50,"h":1},{"k":2,"v":50,"a":60,"h":0.5},{"k":2,"v":50,"a":50,"h":0},{"k":2,"v":50,"a":50,"h":1}]},"mark":{"type":"line","order":null,"strokeWidth":0,"interpolate":"linear-closed"},"encoding":{"x":{"field":"a","type":"quantitative","scale":{"domain":[-75,75],"range":[-264,487]},"axis":null},"y":{"field":"h","type":"quantitative","scale":{"domain":[0,1],"range":[136.5,146]},"axis":null},"fill":{"field":"v","type":"nominal","scale":{"domain":[-60,-50,-40,-30,-20,-10,0,10,20,30,40,50,98,99],"range":["#6a1a9a","#0a60ff","#3a96f5","#60c4ff","#8ce8fb","#ccfdfd","#ffec9a","#fec96b","#ff9a33","#ff7433","#ff0000","#7a0000","#ffffff","#c8c8c8"]},"legend":null},"detail":{"field":"k"}}},
{"data":{"values":[{"a":-40},{"a":-20},{"a":0},{"a":20},{"a":40}]},"mark":{"type":"text","fontSize":8,"color":"#222","dy":1},"encoding":{"x":{"field":"a","type":"quantitative","scale":{"domain":[-75,75],"range":[-264,487]},"axis":null},"y":{"datum":-0.68,"type":"quantitative","scale":{"domain":[0,1],"range":[136.5,146]},"axis":null},"text":{"field":"a"}}},
{"data":{"values":[{"a":-50},{"a":-30},{"a":-10},{"a":10},{"a":30},{"a":50}]},"mark":{"type":"text","fontSize":8,"color":"#222"},"encoding":{"x":{"field":"a","type":"quantitative","scale":{"domain":[-75,75],"range":[-264,487]},"axis":null},"y":{"datum":1.75,"type":"quantitative","scale":{"domain":[0,1],"range":[136.5,146]},"axis":null},"text":{"field":"a"}}}
]}
]}
